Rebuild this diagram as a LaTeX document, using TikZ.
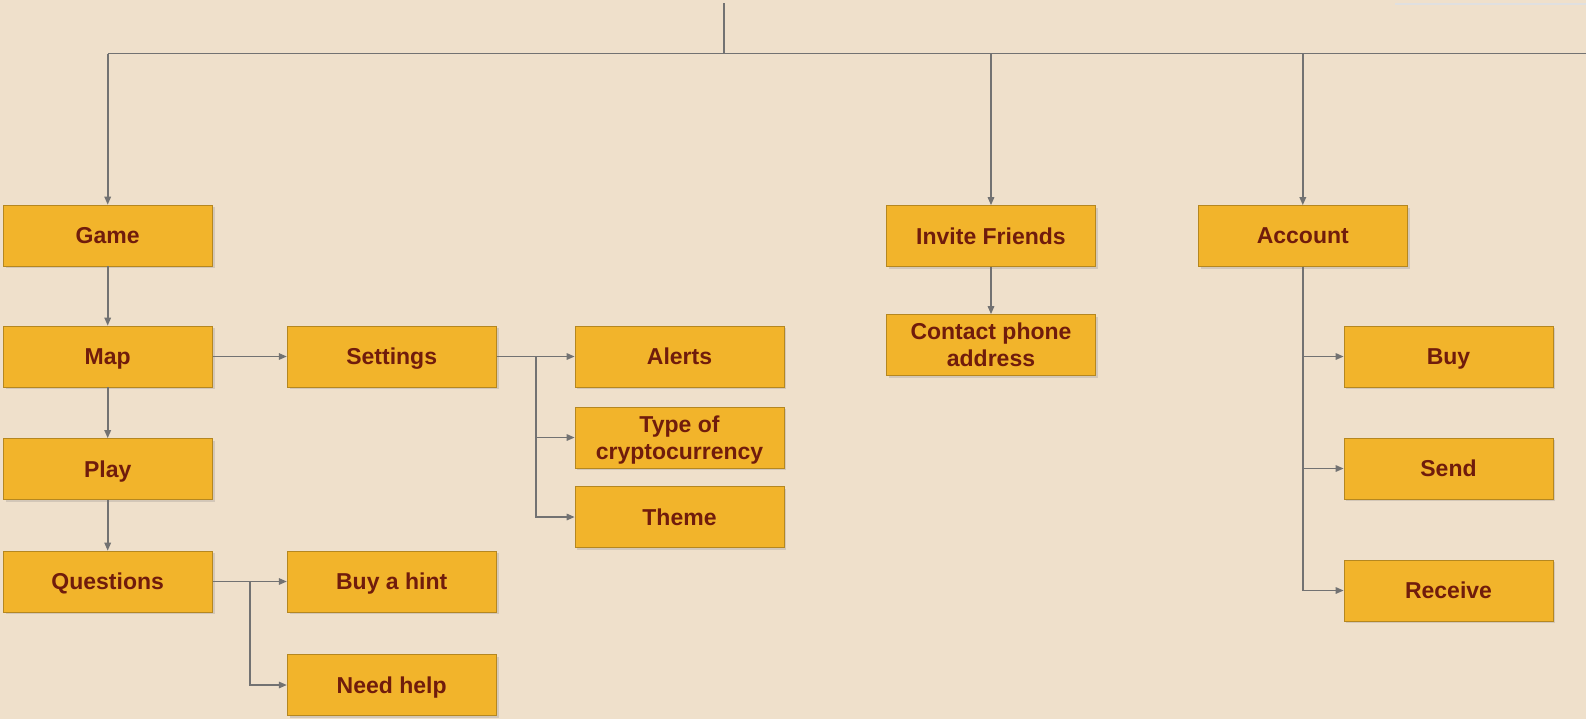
\documentclass[tikz,border=0pt]{standalone}
\usepackage{fontspec}
\setmainfont{Liberation Sans}
\usetikzlibrary{arrows.meta,shadows}

\definecolor{paper}{HTML}{EFE0CB}
\definecolor{boxfill}{HTML}{F2B42B}
\definecolor{boxtext}{HTML}{701C0C}
\definecolor{wire}{HTML}{727272}

\begin{document}
\begin{tikzpicture}
  [x=0.5pt,y=-0.5pt,
   box/.style={rectangle,fill=boxfill,draw=boxfill!75!black,line width=0.3pt,
     minimum width=104.5pt,minimum height=30.5pt,inner sep=0pt,align=center,
     text depth=0pt,
     font=\fontsize{11.5}{13.5}\selectfont\bfseries,text=boxtext,
     drop shadow={shadow xshift=1.2pt,shadow yshift=-1.2pt,opacity=0.25}},
   link/.style={draw=wire,line width=0.85pt},
   arr/.style={link,-{Triangle[length=4pt,width=3.2pt]}}]

  \useasboundingbox (0,0) rectangle (1586,719);
  \fill[paper] (0,0) rectangle (1586,719);
  % edge of the box above, cut off
  \draw[black!12,line width=1pt] (1395,3.5) -- (1586,3.5);

  % left column
  \node [box] (game) at (107.7,235.5) {Game};
  \node [box] (map) at (107.7,356.5) {Map};
  \node [box] (play) at (107.7,469) {Play};
  \node [box] (questions) at (107.7,581.5) {Questions};

  \node [box] (settings) at (391.7,356.5) {Settings};
  \node [box] (hint) at (391.7,581.5) {Buy a hint};
  \node [box] (help) at (391.7,685) {Need help};

  \node [box] (alerts) at (679.5,356.5) {Alerts};
  \node [box] (crypto) at (679.5,437.5) {Type of\\cryptocurrency};
  \node [box] (theme) at (679.5,517) {Theme};

  % middle and right
  \node [box] (invite) at (991,236) {Invite Friends};
  \node [box] (contact) at (991,345) {Contact phone\\address};

  \node [box] (account) at (1302.8,236) {Account};
  \node [box] (buy) at (1448.5,356.5) {Buy};
  \node [box] (send) at (1448.5,468.5) {Send};
  \node [box] (receive) at (1448.5,590.5) {Receive};

  % bus along the top
  \coordinate (root) at (724,3);
  \coordinate (bus) at (724,53.5);
  \coordinate (busend) at (1586,53.5);
  \draw [link] (root) -- (bus);
  \draw [link] (bus -| game.north) -- (busend);
  \draw [arr] (bus -| game.north) -- (game);
  \draw [arr] (bus -| invite.north) -- (invite);
  \draw [arr] (bus -| account.north) -- (account);

  \draw [arr] (game) -- (map);
  \draw [arr] (map) -- (play);
  \draw [arr] (play) -- (questions);
  \draw [arr] (map) -- (settings);

  \coordinate (sj) at (536,356.5);
  \draw [link] (settings.east) -- (sj);
  \draw [arr] (sj) |- (alerts);
  \draw [arr] (sj) |- (crypto);
  \draw [arr] (sj) |- (theme);

  \coordinate (qj) at (250,581.5);
  \draw [link] (questions.east) -- (qj);
  \draw [arr] (qj) |- (hint);
  \draw [arr] (qj) |- (help);

  \draw [arr] (invite) -- (contact);

  \draw [arr] (account.south) |- (buy);
  \draw [arr] (account.south) |- (send);
  \draw [arr] (account.south) |- (receive);
\end{tikzpicture}
\end{document}
